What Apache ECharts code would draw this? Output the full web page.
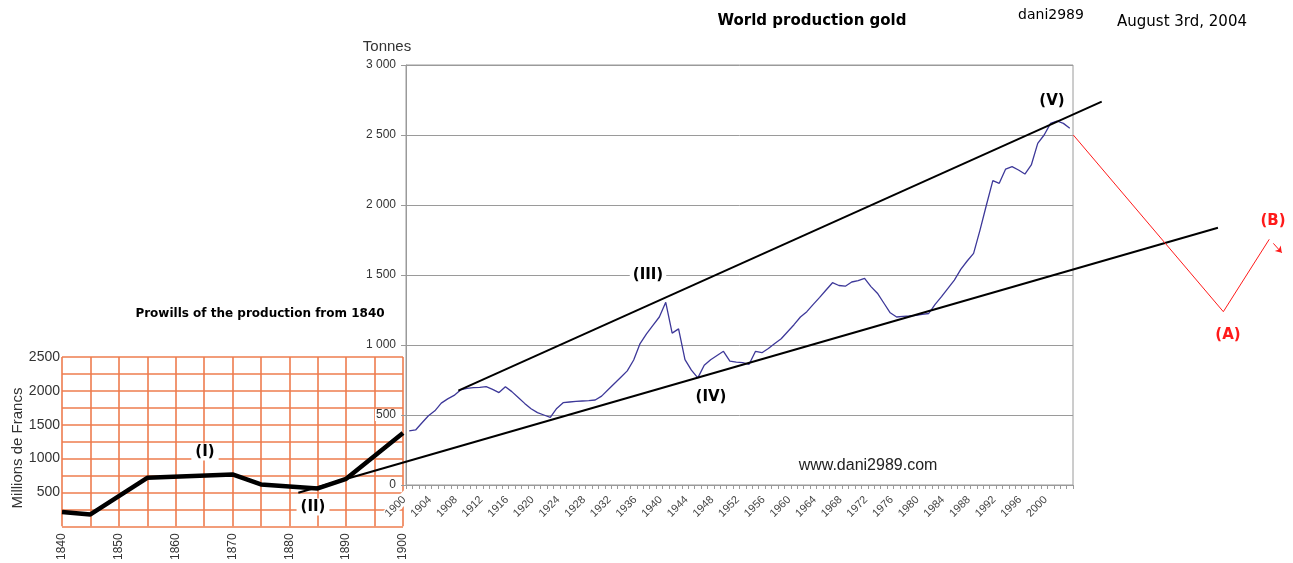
<!DOCTYPE html>
<html>
<head>
<meta charset="utf-8">
<script src="https://cdn.jsdelivr.net/npm/echarts@6/dist/echarts.min.js"></script>
<style>html,body{margin:0;padding:0;background:#fff;}#c{width:1293px;height:563px;}</style>
</head>
<body>
<div id="c"></div>
<script>
// ---- Main chart: world gold production (tonnes), 1900-2003 ----
const years = [1900,1901,1902,1903,1904,1905,1906,1907,1908,1909,1910,1911,1912,1913,1914,1915,1916,1917,1918,1919,
1920,1921,1922,1923,1924,1925,1926,1927,1928,1929,1930,1931,1932,1933,1934,1935,1936,1937,1938,1939,
1940,1941,1942,1943,1944,1945,1946,1947,1948,1949,1950,1951,1952,1953,1954,1955,1956,1957,1958,1959,
1960,1961,1962,1963,1964,1965,1966,1967,1968,1969,1970,1971,1972,1973,1974,1975,1976,1977,1978,1979,
1980,1981,1982,1983,1984,1985,1986,1987,1988,1989,1990,1991,1992,1993,1994,1995,1996,1997,1998,1999,
2000,2001,2002,2003];
const tonnes = [386,393,445,495,530,585,615,640,679,690,695,698,702,683,660,702,667,625,583,545,
517,500,483,547,588,593,597,600,603,607,635,680,725,770,815,893,1010,1080,1140,1200,
1305,1085,1115,895,820,765,855,895,925,955,885,878,874,862,955,945,975,1010,1045,1095,
1145,1200,1238,1290,1340,1393,1445,1425,1420,1450,1460,1476,1417,1370,1300,1230,1200,1205,1207,1212,
1218,1225,1290,1345,1405,1464,1540,1600,1655,1821,2000,2174,2155,2257,2274,2250,2221,2286,2440,2500,
2583,2600,2583,2548];
const tonneTicks = [0,500,1000,1500,2000,2500,3000];

// ---- Annotation lines in (year, tonnes) ----
const upperTrend = [[1907.66,674],[2007.98,2738]];
const lowerTrend = [[1882.71,-55],[2026.1,1837]];
const abcPath = [[2003.55,2500],[2026.94,1238],[2034.1,1755]];
const abcArrow = [[2034.74,1726],[2036.05,1659]];

// ---- Inset: production from 1840 (millions de francs) ----
const insetYears = [1840,1845,1855,1870,1875,1885,1890,1900];
const insetFrancs = [210,175,716,765,618,559,701,1378];
const insetTicks = [500,1000,1500,2000,2500];

const ORANGE = '#ee7c4e';
const GRAY = '#9a9a9a';

const chart = echarts.init(document.getElementById('c'), null, {renderer:'canvas'});
const fmtT = v => { const s = String(v); return s.length > 3 ? s.slice(0, s.length-3) + ' ' + s.slice(-3) : s; };

function txt(text, x, y, font, color, extra) {
  return {
    type: 'text', z: 100,
    style: Object.assign({text: text, x: x, y: y, font: font, fill: color || '#000',
      textAlign: 'center', textVerticalAlign: 'middle'}, extra || {})
  };
}

function segLines(name, pts, color, width, extra) {
  return Object.assign({
    type: 'lines', name: name, coordinateSystem: 'cartesian2d', xAxisIndex: 1, yAxisIndex: 0,
    clip: false, z: 5, polyline: pts.length > 2, symbol: ['none', 'none'],
    data: [{coords: pts}], lineStyle: {color: color, width: width, opacity: 1}
  }, extra || {});
}

const option = {
  animation: false,
  backgroundColor: '#fff',
  grid: [
    {left: 406, top: 65, width: 667, height: 420, show: true, borderColor: GRAY, borderWidth: 1, backgroundColor: 'transparent'},
    {left: 62, top: 357, width: 341, height: 170, show: false}
  ],
  xAxis: [
    {type: 'category', gridIndex: 0, data: years, boundaryGap: true,
     axisLine: {lineStyle: {color: GRAY}},
     axisTick: {show: true, interval: 0, length: 4, lineStyle: {color: GRAY}},
     axisLabel: {interval: 3, rotate: 45, fontSize: 11, color: '#444', fontFamily: 'Liberation Sans', margin: 8,
                 backgroundColor: '#fff', padding: [0, 7, 0, 0]},
     splitLine: {show: false}},
    {type: 'value', gridIndex: 0, min: 1899.5, max: 2003.5, show: false},
    {type: 'value', gridIndex: 1, min: 1840, max: 1900, interval: 5,
     axisLine: {show: false}, axisTick: {show: false},
     axisLabel: {rotate: 90, fontSize: 12, color: '#333', fontFamily: 'Liberation Sans', margin: 7,
                 formatter: v => (v % 10 === 0 ? String(v) : '')},
     splitLine: {show: true, lineStyle: {color: ORANGE, width: 1.6}}}
  ],
  yAxis: [
    {type: 'value', gridIndex: 0, min: 0, max: 3000, interval: 500,
     axisLine: {show: true, lineStyle: {color: GRAY}},
     axisTick: {show: true, length: 5, lineStyle: {color: GRAY}},
     axisLabel: {fontSize: 12, color: '#333', fontFamily: 'Liberation Sans', margin: 9,
                 backgroundColor: '#fff', padding: [0,1,0,1],
                 formatter: v => (tonneTicks.indexOf(v) >= 0 ? fmtT(v) : '')},
     splitLine: {show: true, lineStyle: {color: GRAY, width: 1}}},
    {type: 'value', gridIndex: 1, min: 0, max: 2500, interval: 250,
     axisLine: {show: false}, axisTick: {show: false},
     axisLabel: {fontSize: 14, color: '#333', fontFamily: 'Liberation Sans', margin: 2,
                 formatter: v => (insetTicks.indexOf(v) >= 0 ? String(v) : '')},
     splitLine: {show: true, lineStyle: {color: ORANGE, width: 1.6}}}
  ],
  series: [
    {type: 'line', name: 'Francs', xAxisIndex: 2, yAxisIndex: 1, z: 3,
     data: insetYears.map((y, i) => [y, insetFrancs[i]]),
     showSymbol: false, lineStyle: {color: '#000', width: 4.5}, itemStyle: {color: '#000'}},
    {type: 'line', name: 'Tonnes', xAxisIndex: 0, yAxisIndex: 0, z: 4,
     data: tonnes, showSymbol: false, lineStyle: {color: '#3d3899', width: 1.3}, itemStyle: {color: '#3d3899'}},
    segLines('upper', upperTrend, '#000', 2),
    segLines('lower', lowerTrend, '#000', 2),
    segLines('abc', abcPath, '#ff1a1a', 1),
    segLines('arrow', abcArrow, '#ff1a1a', 1, {symbol: ['none', 'arrow'], symbolSize: 6})
  ],
  graphic: [
    txt('World production gold', 812, 21, 'bold 15px "DejaVu Sans"'),
    txt('dani2989', 1051, 15, '14px "DejaVu Sans"'),
    txt('August 3rd, 2004', 1182, 22, '15px "DejaVu Sans"'),
    txt('Tonnes', 387, 47, '15px "Liberation Sans"', '#333'),
    txt('Prowills of the production from 1840', 260, 314, 'bold 12px "DejaVu Sans"'),
    Object.assign(txt('Millions de Francs', 0, 0, '15px "Liberation Sans"', '#333'), {x: 18, y: 448, rotation: Math.PI/2}),
    txt('www.dani2989.com', 868, 466, '16px "Liberation Sans"', '#222'),
    txt('(III)', 648, 275, 'bold 15px "DejaVu Sans"', '#000', {backgroundColor: '#fff', padding: [1,3]}),
    txt('(IV)', 711, 397, 'bold 15px "DejaVu Sans"'),
    txt('(V)', 1052, 101, 'bold 15px "DejaVu Sans"'),
    txt('(I)', 205, 452, 'bold 15px "DejaVu Sans"', '#000', {backgroundColor: '#fff', padding: [1,4]}),
    txt('(II)', 313, 507, 'bold 15px "DejaVu Sans"', '#000', {backgroundColor: '#fff', padding: [1,4]}),
    txt('(A)', 1228, 335, 'bold 15px "DejaVu Sans"', '#ff1a1a'),
    txt('(B)', 1273, 221, 'bold 15px "DejaVu Sans"', '#ff1a1a')
  ]
};
chart.setOption(option);
</script>
</body>
</html>
